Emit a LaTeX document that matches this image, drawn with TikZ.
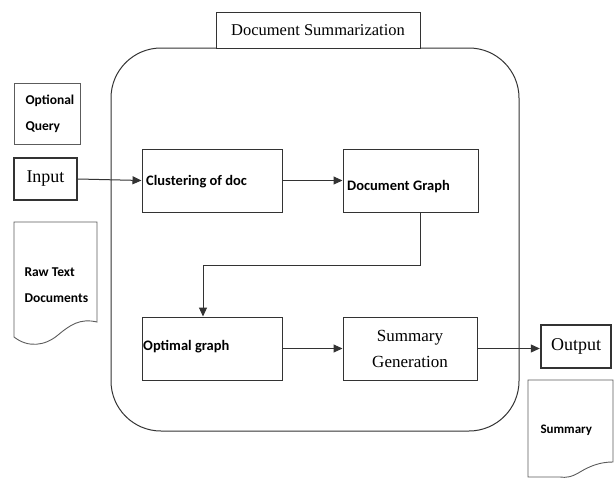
\documentclass[tikz,border=0pt]{standalone}
\usepackage{fontspec}
\setmainfont{Liberation Serif}
\newfontfamily\calfont{Carlito}
\usetikzlibrary{arrows.meta}
\definecolor{ln}{HTML}{333333}
\tikzset{
  x=1pt,y=-1pt,
  box/.style={draw=ln, line width=1pt, fill=white, inner sep=0pt},
  thickbox/.style={draw=ln, line width=2.4pt, fill=white, inner sep=0pt},
  conn/.style={draw=ln, line width=1pt, -{Triangle[length=9pt,width=8pt]}},
  sanslbl/.style={font=\calfont\bfseries\fontsize{14.5}{16}\selectfont, inner sep=0pt},
  smalllbl/.style={font=\calfont\bfseries\fontsize{13.5}{26}\selectfont},
  seriflbl/.style={font=\fontsize{17}{26}\selectfont},
}
\begin{document}
\begin{tikzpicture}
\path[use as bounding box] (0,0) rectangle (616,477);
% big rounded container
\draw[ln, line width=1pt, rounded corners=50pt] (111,48) rectangle (519,431);
% title
\node[box, minimum width=204pt, minimum height=36pt, font=\fontsize{16.5}{20}\selectfont] (title) at (318,30) {Document Summarization};
% left side
\node[box, draw=ln!80, line width=0.9pt, minimum width=66pt, minimum height=61pt] (oq) at (47,113.5) {};
\node[smalllbl, align=left, anchor=west] (oqt) at (22,114) {Optional\\Query};
\node[thickbox, minimum width=63pt, minimum height=42pt, font=\fontsize{18}{20}\selectfont] (input) at (45.5,179) {Input};
% raw text doc shape
\draw[ln!80, line width=0.9pt, fill=white] (14,222) -- (97,222) -- (97,322)
  .. controls (80,318) and (70,325) .. (58,335) .. controls (45,346) and (28,348) .. (14,337) -- cycle;
\node[smalllbl, align=left, anchor=west] (raw) at (21,285) {Raw Text\\Documents};
% process boxes
\node[box, minimum width=140pt, minimum height=63pt] (clus) at (212,180.5) {};
\node[sanslbl, anchor=west] (clust) at (146,182) {Clustering of doc};
\node[box, minimum width=135pt, minimum height=63pt] (dg) at (410.5,180.5) {};
\node[sanslbl, anchor=west] (dgt) at (347,187) {Document Graph};
\node[box, minimum width=140pt, minimum height=63pt] (opt) at (212,348.5) {};
\node[sanslbl, anchor=west] (optt) at (143,347) {Optimal graph};
\node[box, minimum width=134pt, minimum height=63pt, align=center, seriflbl] (sg) at (410,348.5) {Summary\\Generation};
% output
\node[thickbox, minimum width=70pt, minimum height=43pt, font=\fontsize{18}{20}\selectfont] (output) at (576,346.5) {Output};
% summary doc shape
\draw[ln!80, line width=0.9pt, fill=white] (528,380) -- (613,380) -- (613,462)
  .. controls (600,462) and (590,466) .. (580,472) .. controls (572,477) and (566,478) .. (560,477) -- (528,477) -- cycle;
\node[font=\calfont\bfseries\fontsize{13}{14}\selectfont, anchor=west] (sumt) at (537,430) {Summary};
% connectors
\draw[conn] (input.east) -- (clus.west);
\draw[conn] (clus.east) -- (clus.east -| dg.west);
\coordinate (c1) at (420,265);
\coordinate (c2) at (203,265);
\draw[conn] (dg.south -| c1) -- (c1) -- (c2) -- (c2 |- opt.north);
\draw[conn] (opt.east) -- (opt.east -| sg.west);
\draw[conn] (sg.east) -- (sg.east -| output.west);
\end{tikzpicture}
\end{document}
